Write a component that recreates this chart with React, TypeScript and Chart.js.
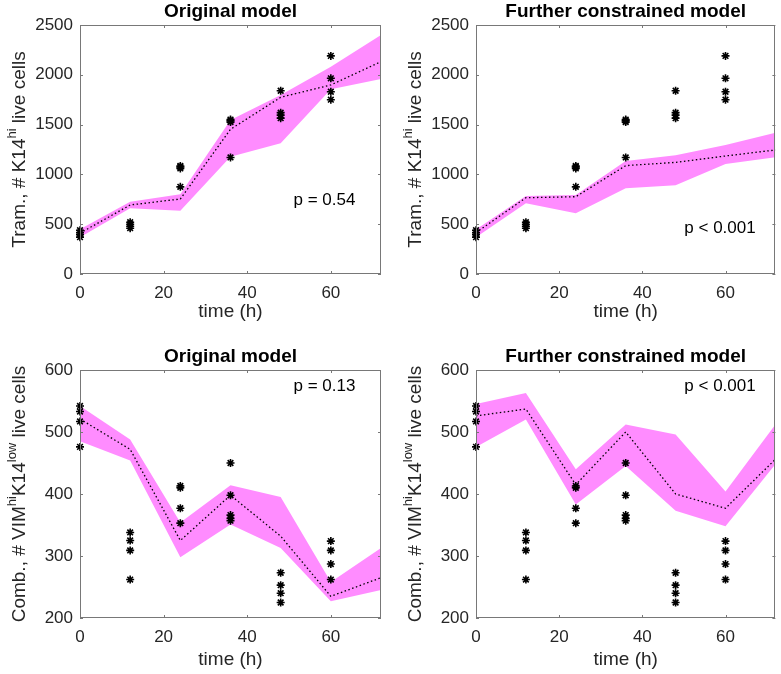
import React, { useEffect, useRef } from "react";
import { Chart, registerables } from "chart.js";

Chart.register(...registerables);

// ---------------- data ----------------
const TIME = [0, 12, 24, 36, 48, 60, 72];
const OBS_TIMES = [0, 12, 24, 36, 48, 60];
const X_TICKS = [0, 20, 40, 60];

const TRAM_TICKS = [0, 500, 1000, 1500, 2000, 2500];
const COMB_TICKS = [200, 300, 400, 500, 600];

const TRAM_OBS = [
  [440, 415, 395, 370],
  [520, 500, 480, 460],
  [1085, 1075, 1060, 875],
  [1550, 1540, 1525, 1170],
  [1840, 1620, 1595, 1565],
  [2190, 1965, 1830, 1750],
];
const COMB_OBS = [
  [542, 533, 517, 476],
  [338, 325, 309, 262],
  [413, 410, 377, 353],
  [450, 398, 366, 361, 357],
  [273, 253, 240, 225],
  [324, 309, 287, 262],
];

const TRAM_ORIG_UPPER = [450, 726, 800, 1546, 1797, 2082, 2400];
const TRAM_ORIG_LOWER = [370, 659, 636, 1178, 1312, 1854, 1958];
const TRAM_ORIG_MEDIAN = [410, 693, 753, 1453, 1774, 1898, 2132];

const TRAM_CONS_UPPER = [448, 783, 793, 1135, 1192, 1295, 1419];
const TRAM_CONS_LOWER = [368, 710, 609, 860, 890, 1104, 1171];
const TRAM_CONS_MEDIAN = [415, 766, 776, 1088, 1121, 1185, 1245];

const COMB_ORIG_UPPER = [542, 488, 354, 414, 395, 258, 313];
const COMB_ORIG_LOWER = [485, 454, 298, 351, 313, 227, 245];
const COMB_ORIG_MEDIAN = [521, 472, 325, 398, 332, 235, 265];

const COMB_CONS_UPPER = [545, 563, 440, 512, 496, 404, 512];
const COMB_CONS_LOWER = [476, 520, 383, 445, 373, 348, 448];
const COMB_CONS_MEDIAN = [526, 537, 415, 500, 400, 377, 456];

const TITLES = ["Original model", "Further constrained model"];
const P_TEXTS = ["p = 0.54", "p < 0.001", "p = 0.13", "p < 0.001"];
const X_TITLE = "time (h)";
const TRAM_YLABEL = [
  { t: "Tram., # K14", s: false },
  { t: "hi", s: true },
  { t: " live cells", s: false },
];
const COMB_YLABEL = [
  { t: "Comb., # VIM", s: false },
  { t: "hi", s: true },
  { t: "K14", s: false },
  { t: "low", s: true },
  { t: " live cells", s: false },
];

// ---------------- style ----------------
const FONT = '"Liberation Sans", Arial, Helvetica, sans-serif';
const BAND = "rgb(255,140,255)";
const W = 781;
const H = 674;

type Panel = {
  title: string;
  p: string;
  pX: number; // fraction of chart area width
  pY: number; // fraction of chart area height
  ylabel: { t: string; s: boolean }[];
  yticks: number[];
  obs: number[][];
  upper: number[];
  lower: number[];
  median: number[];
  area: { left: number; right: number; top: number; bottom: number };
  labelX: number;
  xTitleOff: number;
};

const PANELS: Panel[] = [
  {
    title: TITLES[0], p: P_TEXTS[0], pX: 0.812, pY: 0.705,
    ylabel: TRAM_YLABEL, yticks: TRAM_TICKS, obs: TRAM_OBS,
    upper: TRAM_ORIG_UPPER, lower: TRAM_ORIG_LOWER, median: TRAM_ORIG_MEDIAN,
    area: { left: 80, right: 381, top: 25, bottom: 274 }, labelX: 25, xTitleOff: 38,
  },
  {
    title: TITLES[1], p: P_TEXTS[1], pX: 0.815, pY: 0.815,
    ylabel: TRAM_YLABEL, yticks: TRAM_TICKS, obs: TRAM_OBS,
    upper: TRAM_CONS_UPPER, lower: TRAM_CONS_LOWER, median: TRAM_CONS_MEDIAN,
    area: { left: 476, right: 776, top: 25, bottom: 274 }, labelX: 421, xTitleOff: 38,
  },
  {
    title: TITLES[0], p: P_TEXTS[2], pX: 0.812, pY: 0.065,
    ylabel: COMB_YLABEL, yticks: COMB_TICKS, obs: COMB_OBS,
    upper: COMB_ORIG_UPPER, lower: COMB_ORIG_LOWER, median: COMB_ORIG_MEDIAN,
    area: { left: 80, right: 381, top: 370, bottom: 618 }, labelX: 25, xTitleOff: 42,
  },
  {
    title: TITLES[1], p: P_TEXTS[3], pX: 0.815, pY: 0.065,
    ylabel: COMB_YLABEL, yticks: COMB_TICKS, obs: COMB_OBS,
    upper: COMB_CONS_UPPER, lower: COMB_CONS_LOWER, median: COMB_CONS_MEDIAN,
    area: { left: 476, right: 776, top: 370, bottom: 618 }, labelX: 421, xTitleOff: 42,
  },
];

function makeDecor(panel: Panel) {
  return {
    id: "panelDecor",
    afterDraw(chart: any) {
      const { ctx, chartArea: a, scales } = chart;
      const xs = scales.x;
      const ys = scales.y;
      ctx.save();
      // axes box
      ctx.strokeStyle = "rgb(120,120,120)";
      ctx.lineWidth = 1;
      ctx.strokeRect(Math.round(a.left) + 0.5, Math.round(a.top) + 0.5,
        Math.round(a.right - a.left) - 1, Math.round(a.bottom - a.top) - 1);
      // inward ticks
      ctx.beginPath();
      const tl = 3;
      X_TICKS.forEach((v) => {
        const px = Math.round(xs.getPixelForValue(v)) + 0.5;
        ctx.moveTo(px, a.bottom); ctx.lineTo(px, a.bottom - tl);
        ctx.moveTo(px, a.top); ctx.lineTo(px, a.top + tl);
      });
      panel.yticks.forEach((v) => {
        const py = Math.round(ys.getPixelForValue(v)) + 0.5;
        ctx.moveTo(a.left, py); ctx.lineTo(a.left + tl, py);
        ctx.moveTo(a.right, py); ctx.lineTo(a.right - tl, py);
      });
      ctx.stroke();

      // title
      ctx.fillStyle = "#000";
      ctx.font = `bold 19px ${FONT}`;
      ctx.textAlign = "center";
      ctx.textBaseline = "middle";
      ctx.fillText(panel.title, (a.left + a.right) / 2, a.top - 13);

      // p-value
      ctx.font = `17px ${FONT}`;
      ctx.fillText(panel.p, a.left + panel.pX * (a.right - a.left), a.top + panel.pY * (a.bottom - a.top));

      // x title
      ctx.fillStyle = "#262626";
      ctx.font = `19px ${FONT}`;
      ctx.fillText(X_TITLE, (a.left + a.right) / 2, a.bottom + panel.xTitleOff);

      // y title with superscripts
      const mainFont = `19px ${FONT}`;
      const supFont = `13px ${FONT}`;
      let total = 0;
      panel.ylabel.forEach((seg) => {
        ctx.font = seg.s ? supFont : mainFont;
        total += ctx.measureText(seg.t).width;
      });
      ctx.translate(panel.labelX, (a.top + a.bottom) / 2);
      ctx.rotate(-Math.PI / 2);
      ctx.textAlign = "left";
      ctx.textBaseline = "alphabetic";
      let cx = -total / 2;
      panel.ylabel.forEach((seg) => {
        ctx.font = seg.s ? supFont : mainFont;
        ctx.fillText(seg.t, cx, seg.s ? -9 : 0);
        cx += ctx.measureText(seg.t).width;
      });
      ctx.restore();
    },
  };
}

function buildConfig(panel: Panel): any {
  const obsPts: { x: number; y: number }[] = [];
  OBS_TIMES.forEach((t, i) => panel.obs[i].forEach((v) => obsPts.push({ x: t, y: v })));
  const toPts = (arr: number[]) => TIME.map((t, i) => ({ x: t, y: arr[i] }));
  const a = panel.area;
  const yMin = panel.yticks[0];
  const yMax = panel.yticks[panel.yticks.length - 1];
  const yAxisW = 80;
  const xAxisH = 50;
  return {
    type: "line",
    data: {
      datasets: [
        {
          label: "data", data: obsPts, showLine: false, pointStyle: "star",
          pointRadius: 4, pointBorderWidth: 1.6, borderColor: "#000",
          pointBorderColor: "#000", backgroundColor: "#000", clip: false,
        },
        {
          label: "median", data: toPts(panel.median), borderColor: "#000",
          borderWidth: 1.3, borderDash: [1.5, 2.5], pointRadius: 0, fill: false,
          tension: 0,
        },
        {
          label: "upper", data: toPts(panel.upper), borderWidth: 0, borderColor: BAND,
          pointRadius: 0, fill: "+1", backgroundColor: BAND, tension: 0,
        },
        {
          label: "lower", data: toPts(panel.lower), borderWidth: 0, borderColor: BAND,
          pointRadius: 0, fill: false, tension: 0,
        },
      ],
    },
    options: {
      responsive: false,
      animation: false,
      events: [],
      layout: {
        padding: {
          left: a.left - yAxisW,
          right: W - a.right,
          top: a.top,
          bottom: H - a.bottom - xAxisH,
        },
      },
      plugins: {
        legend: { display: false },
        tooltip: { enabled: false },
        title: { display: false },
      },
      scales: {
        x: {
          type: "linear", min: 0, max: 72,
          grid: { display: false, drawTicks: false, tickLength: 0 }, border: { display: false },
          afterBuildTicks: (s: any) => { s.ticks = X_TICKS.map((v) => ({ value: v })); },
          afterFit: (s: any) => { s.height = xAxisH; },
          ticks: {
            color: "#262626", font: { family: FONT, size: 17 }, padding: 9, maxRotation: 0,
            callback: (v: any) => String(v),
          },
        },
        y: {
          type: "linear", min: yMin, max: yMax,
          grid: { display: false, drawTicks: false, tickLength: 0 }, border: { display: false },
          afterBuildTicks: (s: any) => { s.ticks = panel.yticks.map((v) => ({ value: v })); },
          afterFit: (s: any) => { s.width = yAxisW; },
          ticks: {
            color: "#262626", font: { family: FONT, size: 17 }, padding: 7,
            callback: (v: any) => String(v),
          },
        },
      },
    },
    plugins: [makeDecor(panel)],
  };
}

function PanelCanvas({ panel }: { panel: Panel }) {
  const ref = useRef<HTMLCanvasElement | null>(null);
  useEffect(() => {
    if (!ref.current) return;
    const chart = new Chart(ref.current, buildConfig(panel));
    return () => chart.destroy();
  }, [panel]);
  return (
    <canvas
      ref={ref}
      width={W}
      height={H}
      style={{ position: "absolute", left: 0, top: 0, width: W, height: H }}
    />
  );
}

export default function App() {
  return (
    <div style={{ position: "fixed", left: 0, top: 0, width: W, height: H, background: "#fff" }}>
      {PANELS.map((p, i) => (
        <PanelCanvas key={i} panel={p} />
      ))}
    </div>
  );
}
